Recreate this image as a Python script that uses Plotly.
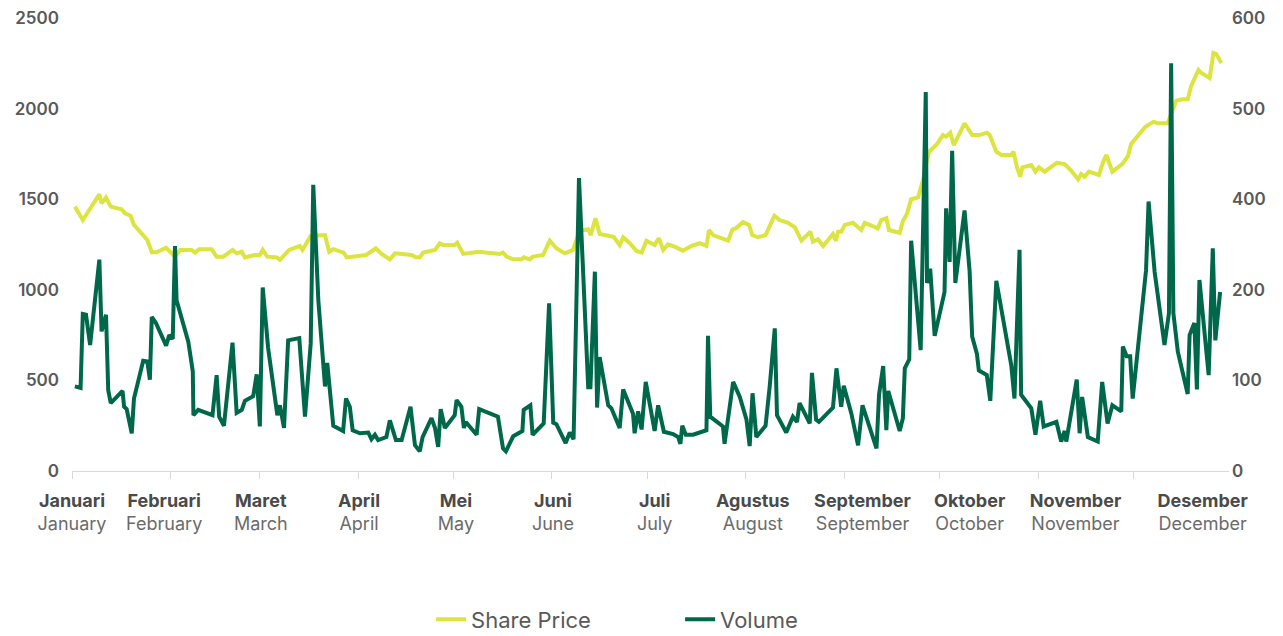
import pandas as pd
import plotly.graph_objects as go

# day offsets from 1 January
price_day = [0.9, 3.4, 8.6, 9.3, 10.7, 12.2, 15.6, 16.7, 18.4, 19.5, 23.7, 25.1, 26.6, 29.6, 32.4, 34, 37.6,
             38.7, 40, 43.9, 45.5, 47.6, 50.5, 51.8, 53.4, 54.4, 57.5, 59.1, 60, 61.4, 64.4, 65.4, 68.3, 71.7,
             72.5, 74.3, 75.1, 79.6, 80.9, 82.2, 85.5, 86.4, 90.6, 92.5, 95.6, 97.4, 100, 101.6, 106.8, 108.2,
             109.4, 110.5, 114.2, 115.7, 116.8, 120.4, 121.2, 123.1, 127.8, 134.6, 135.6, 136.7, 138.8, 141.4,
             142.2, 144, 145, 148.2, 150.3, 152.4, 155, 157.6, 159.7, 162.4, 163.2, 164.7, 166, 170.4, 172.3,
             173.4, 175.5, 177.6, 179.2, 180.7, 183.3, 184.6, 186, 187.5, 189.6, 192.2, 194.9, 197.5, 199.6,
             200.4, 201.7, 206.4, 207.8, 208.8, 211.1, 213, 214, 215.8, 218.2, 221, 222.6, 225.3, 227.4, 229.5,
             232.3, 233.1, 234.7, 236.3, 239.4, 240.3, 241, 242, 243.1, 245.7, 248.3, 249.4, 253.5, 254.6,
             256.2, 257, 260.4, 261.4, 262.7, 264, 266.2, 267.8, 268.8, 269.6, 271.9, 274, 275, 276.3, 277.4,
             278.4, 280.8, 283.2, 285.5, 287.8, 288.7, 290.8, 292.4, 295.5, 296.2, 297.3, 298.3, 299, 301.8,
             303.1, 304.2, 306, 309.8, 312.3, 314.4, 316.5, 317.5, 318.6, 319.9, 323.1, 324.3, 325.4, 327.3,
             330.4, 332.2, 333.2, 337.7, 340.3, 341.6, 344.7, 347.4, 349.3, 351, 352.1, 354.4, 355.3, 357.9,
             359.1, 360, 361.6]
share_price = [1459, 1385, 1527, 1477, 1510, 1459, 1444, 1422, 1409, 1358, 1275, 1207, 1207, 1232, 1183, 1220,
               1220, 1205, 1224, 1224, 1183, 1183, 1220, 1201, 1210, 1179, 1192, 1192, 1220, 1183, 1179, 1165,
               1220, 1242, 1220, 1275, 1297, 1302, 1210, 1224, 1205, 1179, 1187, 1192, 1229, 1198, 1168, 1201,
               1192, 1179, 1179, 1205, 1220, 1257, 1247, 1247, 1260, 1198, 1210, 1198, 1205, 1183, 1168, 1168,
               1179, 1168, 1183, 1192, 1271, 1229, 1201, 1220, 1326, 1334, 1302, 1395, 1308, 1293, 1247, 1290,
               1257, 1214, 1205, 1271, 1247, 1285, 1220, 1251, 1238, 1216, 1242, 1257, 1242, 1330, 1302, 1271,
               1334, 1339, 1373, 1358, 1302, 1290, 1302, 1409, 1385, 1370, 1345, 1271, 1321, 1266, 1279, 1242,
               1308, 1271, 1321, 1321, 1358, 1370, 1330, 1370, 1339, 1385, 1395, 1330, 1315, 1380, 1420, 1500,
               1510, 1610, 1698, 1762, 1799, 1854, 1845, 1867, 1799, 1836, 1919, 1854, 1854, 1867, 1854, 1762,
               1744, 1744, 1762, 1676, 1624, 1676, 1689, 1652, 1676, 1652, 1701, 1694, 1657, 1610, 1639, 1624,
               1652, 1634, 1701, 1744, 1652, 1694, 1738, 1805, 1900, 1928, 1919, 1919, 2044, 2051, 2051, 2125,
               2213, 2197, 2169, 2307, 2301, 2252]

volume_day = [0.9, 2.7, 3.4, 4.4, 5.7, 8.6, 9.3, 10.7, 11.4, 12.2, 15.9, 16.4, 17.2, 18.8, 19.5, 22.4, 23.7,
              24.5, 25.1, 26.4, 29.6, 30.6, 31.7, 32.4, 32.9, 36.6, 38, 38.2, 39.7, 42.9, 44.2, 45.5, 46.3, 47.8,
              50.5, 51.8, 53.4, 54.4, 57, 58.1, 59.1, 60, 61.7, 64.6, 65.4, 66.7, 68, 71.5, 73.3, 75.1, 75.9,
              77.5, 79.6, 80.3, 82.2, 85.3, 86.2, 87.4, 88.3, 90.6, 93.2, 94.2, 95.3, 96.3, 98.9, 100, 101.1,
              101.9, 103.7, 106.5, 107.9, 109.4, 110.3, 113.1, 114.2, 115.2, 116, 117.3, 120.4, 121, 122.5,
              123.3, 123.9, 127.3, 128.1, 134, 135.6, 136.5, 138.8, 141.7, 142.1, 144.2, 144.9, 148.4, 150.1,
              151.4, 152.4, 155.3, 156.6, 157.8, 159.5, 162.4, 163.1, 164.5, 165.2, 166, 168.7, 169.7, 172.3,
              173.4, 176.5, 177, 178.1, 179.2, 180.5, 183.3, 184.4, 186.2, 189.1, 190.7, 191.4, 192, 193.1,
              195.4, 199.6, 200.1, 200.8, 203.8, 204.8, 205.3, 208, 210.1, 212.2, 213.2, 214.1, 215.3, 218.2,
              219.5, 221.1, 221.8, 224.7, 226.8, 228.1, 228.9, 232.1, 232.8, 234.1, 235, 239.4, 240.5, 242,
              242.8, 245.2, 247.3, 248.7, 253.1, 253.9, 255.2, 256.2, 256.8, 260.4, 261.4, 262, 263.4, 264, 267,
              268.6, 269, 270, 271.4, 274.5, 275, 276.1, 276.9, 277.9, 280.8, 282.4, 283.2, 284.7, 285.3, 287.8,
              288.9, 290.8, 295.5, 296.5, 298.1, 298.6, 301.8, 303.1, 304.6, 305.7, 309.7, 311.2, 312.3, 312.8,
              316.1, 317, 317.8, 319.6, 322.7, 324.1, 325.8, 327.3, 330.1, 330.6, 331.8, 332.9, 333.7, 337.9,
              338.7, 340.6, 343.7, 345.1, 345.8, 346.5, 347.9, 351, 351.6, 353.1, 353.9, 354.7, 357.6, 358.9,
              359.7, 361.2]
volume = [112, 110, 208, 207, 167, 280, 185, 207, 107, 90, 106, 85, 82, 50, 96, 146, 145, 121, 204, 196, 166,
          180, 175, 298, 226, 171, 132, 74, 81, 77, 74, 127, 72, 60, 170, 77, 81, 93, 99, 128, 59, 243, 163, 74,
          87, 57, 173, 176, 72, 169, 379, 226, 112, 143, 60, 53, 96, 85, 54, 50, 51, 42, 48, 41, 45, 67, 49, 41,
          41, 85, 34, 26, 45, 70, 57, 32, 82, 57, 74, 94, 85, 57, 65, 48, 82, 72, 30, 26, 46, 53, 81, 87, 48, 63,
          222, 64, 62, 37, 51, 42, 388, 111, 111, 264, 84, 151, 87, 83, 57, 108, 76, 50, 79, 55, 118, 53, 87, 52,
          49, 45, 36, 60, 48, 48, 54, 179, 72, 62, 59, 36, 118, 98, 68, 33, 103, 45, 60, 112, 189, 74, 51, 72,
          65, 90, 63, 130, 68, 65, 84, 136, 85, 113, 76, 34, 87, 30, 101, 139, 54, 106, 53, 70, 136, 148, 305,
          160, 502, 249, 268, 179, 237, 348, 277, 424, 249, 345, 264, 178, 155, 133, 127, 93, 252, 140, 96, 293,
          101, 83, 48, 93, 59, 65, 39, 53, 39, 121, 50, 98, 45, 39, 118, 63, 87, 79, 165, 152, 152, 96, 266, 357,
          264, 167, 209, 540, 209, 158, 102, 180, 196, 108, 253, 127, 295, 173, 237]

month_id = ["Januari", "Februari", "Maret", "April", "Mei", "Juni", "Juli", "Agustus", "September",
            "Oktober", "November", "Desember"]
month_en = ["January", "February", "March", "April", "May", "June", "July", "August", "September",
            "October", "November", "December"]
label_day = [0, 29, 59.4, 90.3, 120.8, 151.3, 183.3, 214.2, 248.7, 282.4, 315.7, 355.7]

PRICE_COLOR = "#dce43f"
VOLUME_COLOR = "#00684a"
TEXT = "#595959"
FONT = "Inter"

start = pd.Timestamp("2023-01-01")


def to_dates(days):
    return [start + pd.to_timedelta(d, unit="D") for d in days]


ticktext = [
    f"<b><span style='color:#4a4a4a'>{a}</span></b><br><span style='color:#6b6b6b'>{b}</span>"
    for a, b in zip(month_id, month_en)
]

fig = go.Figure()
fig.add_trace(go.Scatter(x=to_dates(price_day), y=share_price, name="Share Price", mode="lines",
                         line=dict(color=PRICE_COLOR, width=4)))
fig.add_trace(go.Scatter(x=to_dates(volume_day), y=volume, name="Volume", mode="lines", yaxis="y2",
                         line=dict(color=VOLUME_COLOR, width=4)))

fig.update_layout(
    width=1283,
    height=636,
    margin=dict(l=72, r=54, t=18, b=165, autoexpand=False),
    plot_bgcolor="white",
    paper_bgcolor="white",
    font=dict(family=FONT, color=TEXT, size=18),
    xaxis=dict(
        type="date",
        range=[start, start + pd.Timedelta(days=364)],
        tickvals=to_dates(label_day),
        ticktext=ticktext,
        ticks="",
        showgrid=False,
        showline=True,
        linecolor="#d9d9d9",
        linewidth=1,
        tickfont=dict(size=18, family=FONT),
        ticklabelstandoff=13,
        minor=dict(dtick="M1", tick0="2023-01-01", ticks="outside", ticklen=7,
                   tickcolor="#d9d9d9", showgrid=False),
    ),
    yaxis=dict(
        range=[0, 2500],
        dtick=500,
        showgrid=False,
        zeroline=False,
        tickfont=dict(size=17, weight=600, color=TEXT),
        ticklabelstandoff=12,
    ),
    yaxis2=dict(
        overlaying="y",
        side="right",
        range=[0, 600],
        tick0=0,
        dtick=120,
        tickformat=".1r",
        showgrid=False,
        zeroline=False,
        tickfont=dict(size=17, weight=600, color=TEXT),
        ticklabelstandoff=2,
    ),
    legend=dict(
        orientation="h",
        xref="container",
        yref="container",
        x=0.336,
        xanchor="left",
        y=0.026,
        yanchor="middle",
        font=dict(size=22, color=TEXT),
        entrywidth=204,
    ),
    showlegend=True,
)

fig.write_html("out.html", config={"displayModeBar": False},
               post_script="document.body.style.margin='0';")
